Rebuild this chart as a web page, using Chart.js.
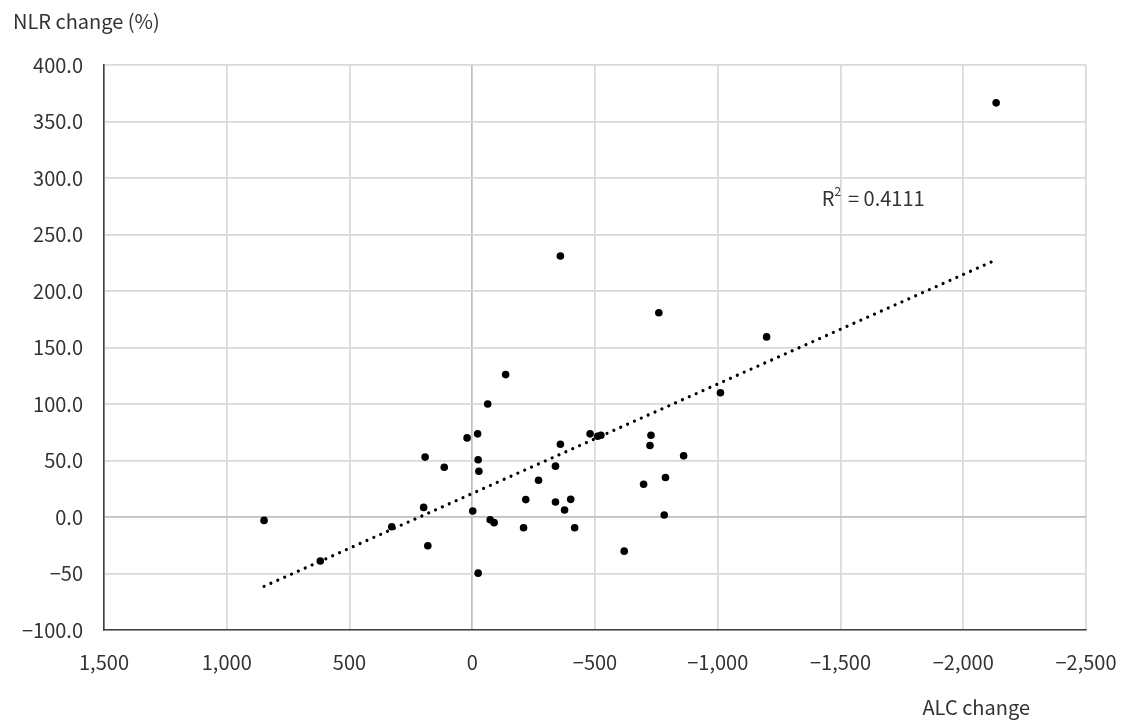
<!DOCTYPE html>
<html>
<head>
<meta charset="utf-8">
<script src="https://cdn.jsdelivr.net/npm/chart.js@4.4.2/dist/chart.umd.min.js"></script>
<style>
  html, body { margin: 0; padding: 0; background: #fff; }
  #wrap { width: 1123px; height: 720px; position: relative; }
</style>
</head>
<body>
<div id="wrap"><canvas id="chart"></canvas></div>
<script>
// ALC change (x) vs NLR change % (y)
const alcChange = [
  848, 619, 328, 198, 181, 192, 114, 21, -22, -24, -27, -2, -24,
  -359, -760, -136, -63, -73, -89, -209, -218, -270, -339, -359,
  -339, -376, -401, -417, -480, -511, -524, -619, -698, -728, -724,
  -787, -782, -861, -1011, -1199, -2134,
];
const nlrChange = [
  -3, -39, -8.6, 8.5, -25.5, 53, 44, 70, 73.6, 50.6, 40.5, 5.3, -49.7,
  231, 180.7, 126, 100, -2.4, -5, -9.5, 15.4, 32.5, 45, 64.4,
  13.3, 6.2, 15.6, -9.5, 73.6, 71.5, 72.4, -30.2, 29, 72.4, 63.3,
  34.9, 1.8, 54.1, 110, 159.4, 366.5,
];

// linear trend as drawn in the figure
const trendSlope = -0.0969;
const trendIntercept = 20.8;
const rSquaredText = '0.4111';

const xTickValues = [1500, 1000, 500, 0, -500, -1000, -1500, -2000, -2500];
const xTickLabels = ['1,500', '1,000', '500', '0', '\u2212500', '\u22121,000', '\u22121,500', '\u22122,000', '\u22122,500'];
const yTickValues = [400, 350, 300, 250, 200, 150, 100, 50, 0, -50, -100];
const yTickLabels = ['400.0', '350.0', '300.0', '250.0', '200.0', '150.0', '100.0', '50.0', '0.0', '\u221250', '\u2212100.0'];

const FONT = '"Noto Sans CJK KR", "Noto Sans", sans-serif';
const TXT = '#333333';
const GRID = '#d9d9d9';
const ZERO = '#bfbfbf';

const points = alcChange.map((x, i) => ({ x, y: nlrChange[i] }));
const xMin = Math.min(...alcChange), xMax = Math.max(...alcChange);
const trend = [xMax, xMin].map(x => ({ x, y: trendSlope * x + trendIntercept }));

// free text: y title top-left, x title bottom-right, R² label
const labels = {
  id: 'labels',
  afterDraw(chart) {
    const { ctx, scales } = chart;
    ctx.save();
    ctx.fillStyle = TXT;
    ctx.font = `20px ${FONT}`;
    ctx.textBaseline = 'middle';
    ctx.textAlign = 'left';
    ctx.fillText('NLR change (%)', 13, 21);
    ctx.textAlign = 'right';
    ctx.fillText('ALC change', 1030, 707);

    const rx = scales.x.getPixelForValue(-1424);
    const ry = scales.y.getPixelForValue(282);
    ctx.textAlign = 'left';
    ctx.fillText('R', rx, ry);
    const rw = ctx.measureText('R').width;
    ctx.font = `12px ${FONT}`;
    ctx.fillText('2', rx + rw, ry - 7);
    ctx.font = `20px ${FONT}`;
    ctx.fillText(' = ' + rSquaredText, rx + rw + 9, ry);
    ctx.restore();
  },
};

new Chart(document.getElementById('chart'), {
  type: 'scatter',
  data: {
    datasets: [
      {
        data: points,
        backgroundColor: '#000', borderColor: '#000',
        pointRadius: 3.8, pointHoverRadius: 3.8, borderWidth: 0,
      },
      {
        type: 'line', data: trend,
        borderColor: '#000', borderWidth: 3.2,
        borderDash: [0.01, 7.5], borderCapStyle: 'round',
        pointRadius: 0, fill: false,
      },
    ],
  },
  options: {
    responsive: true, maintainAspectRatio: false, animation: false,
    layout: { padding: { top: 65, right: 37, left: 0, bottom: 0 } },
    plugins: { legend: { display: false }, tooltip: { enabled: false } },
    scales: {
      x: {
        type: 'linear', reverse: true, min: -2500, max: 1500,
        afterBuildTicks: s => { s.ticks = xTickValues.map(v => ({ value: v })); },
        afterFit: s => { s.height = 90; s.paddingLeft = 0; s.paddingRight = 0; },
        grid: {
          color: c => c.tick && c.tick.value === 0 ? ZERO : GRID,
          lineWidth: 1.7, drawTicks: false,
        },
        border: { color: '#404040', width: 1.6 },
        ticks: {
          padding: 20, color: TXT, font: { family: FONT, size: 20 },
          maxRotation: 0, autoSkip: false,
          callback: v => xTickLabels[xTickValues.indexOf(v)],
        },
      },
      y: {
        type: 'linear', min: -100, max: 400,
        afterBuildTicks: s => { s.ticks = yTickValues.map(v => ({ value: v })); },
        afterFit: s => { s.width = 104; s.paddingTop = 0; s.paddingBottom = 0; },
        grid: {
          color: c => c.tick && c.tick.value === 0 ? ZERO : GRID,
          lineWidth: 1.7, drawTicks: false,
        },
        border: { color: '#404040', width: 1.6 },
        ticks: {
          padding: 21, color: TXT, font: { family: FONT, size: 20 },
          autoSkip: false,
          callback: v => yTickLabels[yTickValues.indexOf(v)],
        },
      },
    },
  },
  plugins: [labels],
});
</script>
</body>
</html>
